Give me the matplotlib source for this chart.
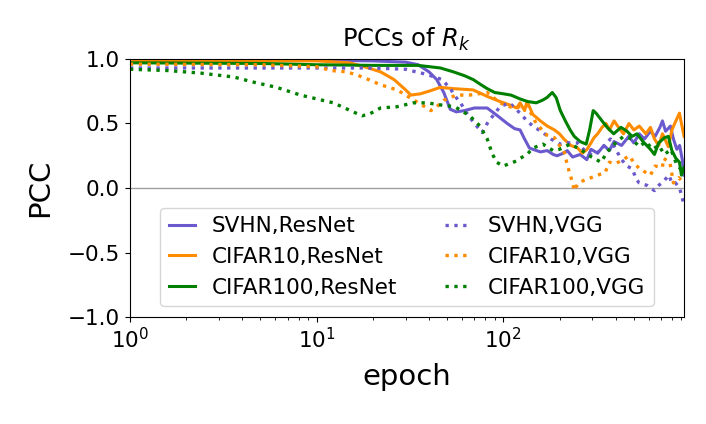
import matplotlib
matplotlib.use('Agg')
import matplotlib.pyplot as plt

# values: epoch -> PCC
svhn_resnet_epoch = [1, 3, 10, 20, 30, 35, 40, 44, 48, 52,
                     56, 62, 70, 82, 93, 105, 115, 123, 130, 138,
                     144, 158, 172, 185, 194, 210, 220, 235, 258, 280,
                     295, 320, 346, 370, 392, 430, 470, 500, 535, 570,
                     614, 650, 690, 712, 740, 786, 815, 850, 880, 909,
                     930]
svhn_resnet_pcc = [0.99, 0.99, 0.99, 0.985, 0.975, 0.955, 0.9, 0.84, 0.74, 0.61,
                   0.59, 0.6, 0.62, 0.62, 0.56, 0.5, 0.46, 0.45, 0.38, 0.31,
                   0.3, 0.28, 0.29, 0.26, 0.25, 0.27, 0.29, 0.24, 0.26, 0.22,
                   0.3, 0.27, 0.33, 0.29, 0.36, 0.33, 0.4, 0.35, 0.42, 0.38,
                   0.44, 0.4, 0.47, 0.52, 0.44, 0.48, 0.38, 0.3, 0.33, 0.22,
                   0.1]

cifar10_resnet_epoch = [1, 5, 10, 15, 18, 22, 26, 30, 32, 36,
                        40, 46, 54, 69, 82, 96, 110, 118, 123, 130,
                        134, 144, 158, 172, 188, 200, 211, 230, 250, 265,
                        281, 295, 306, 320, 338, 355, 370, 392, 410, 440,
                        471, 500, 535, 580, 614, 645, 680, 712, 766, 800,
                        840, 878, 900, 930]
cifar10_resnet_pcc = [0.98, 0.985, 0.985, 0.97, 0.94, 0.9, 0.84, 0.76, 0.72, 0.73,
                      0.75, 0.78, 0.77, 0.76, 0.71, 0.67, 0.64, 0.62, 0.66, 0.6,
                      0.67, 0.57, 0.52, 0.48, 0.45, 0.42, 0.38, 0.33, 0.31, 0.27,
                      0.3, 0.35, 0.39, 0.42, 0.47, 0.5, 0.45, 0.52, 0.48, 0.42,
                      0.5, 0.45, 0.48, 0.42, 0.47, 0.38, 0.33, 0.42, 0.32, 0.45,
                      0.52, 0.58, 0.5, 0.4]

cifar100_resnet_epoch = [1, 5, 10, 20, 35, 46, 54, 62, 69, 76,
                         82, 90, 100, 110, 123, 135, 150, 162, 171, 183,
                         192, 202, 215, 228, 240, 258, 278, 290, 303, 314,
                         338, 360, 390, 427, 460, 489, 520, 560, 614, 645,
                         680, 730, 766, 800, 840, 878, 900, 930]
cifar100_resnet_pcc = [0.97, 0.965, 0.955, 0.95, 0.95, 0.93, 0.9, 0.87, 0.84, 0.8,
                       0.77, 0.74, 0.73, 0.72, 0.69, 0.67, 0.66, 0.68, 0.7, 0.74,
                       0.7, 0.6, 0.52, 0.45, 0.4, 0.36, 0.34, 0.45, 0.6, 0.58,
                       0.52, 0.47, 0.42, 0.47, 0.44, 0.4, 0.42, 0.36, 0.3, 0.26,
                       0.35, 0.39, 0.4, 0.29, 0.23, 0.2, 0.1, 0.16]

svhn_vgg_epoch = [1, 5, 10, 20, 30, 34, 39, 47, 52, 56,
                  59, 65, 72, 77, 82, 87, 96, 108, 115, 123,
                  134, 144, 163, 180, 202, 220, 250, 281, 306, 334,
                  375, 400, 430, 460, 489, 520, 535, 590, 645, 680,
                  730, 770, 800, 836, 880, 910, 930]
svhn_vgg_pcc = [0.93, 0.93, 0.93, 0.93, 0.92, 0.9, 0.88, 0.84, 0.77, 0.7,
                0.66, 0.56, 0.48, 0.43, 0.5, 0.55, 0.63, 0.66, 0.62, 0.58,
                0.52, 0.48, 0.43, 0.38, 0.34, 0.35, 0.35, 0.27, 0.25, 0.3,
                0.38, 0.3, 0.22, 0.17, 0.15, 0.06, 0.04, 0.02, -0.02, 0.02,
                0.06, 0.1, 0.04, 0.04, 0.0, -0.08, -0.14]

cifar10_vgg_epoch = [1, 5, 10, 12, 14.5, 16.5, 19, 22, 27, 31.6,
                     37, 41, 44, 48, 56, 66, 82, 96, 113, 134,
                     150, 171, 188, 200, 211, 222, 234, 240, 250, 261,
                     281, 295, 320, 351, 370, 400, 440, 471, 500, 535,
                     565, 614, 650, 712, 720, 780, 815, 870, 930]
cifar10_vgg_pcc = [0.96, 0.955, 0.94, 0.91, 0.9, 0.875, 0.84, 0.8, 0.76, 0.7,
                   0.64, 0.6, 0.63, 0.68, 0.72, 0.72, 0.74, 0.66, 0.62, 0.64,
                   0.5, 0.41, 0.39, 0.33, 0.29, 0.16, 0.05, -0.02, 0.03, 0.05,
                   0.07, 0.08, 0.1, 0.12, 0.2, 0.19, 0.22, 0.25, 0.2, 0.15,
                   0.13, 0.1, 0.17, 0.16, 0.23, 0.2, 0.04, 0.08, 0.04]

cifar100_vgg_epoch = [1, 1.6, 2.4, 3.6, 4.6, 6.1, 8.2, 12.3, 15.7, 17.5,
                      19, 22, 27, 33, 39, 48, 55, 66, 75, 82,
                      87, 92, 100, 108, 118, 123, 134, 144, 163, 185,
                      200, 228, 260, 281, 334, 360, 400, 440, 489, 535,
                      580, 630, 680, 730, 790, 850, 930]
cifar100_vgg_pcc = [0.92, 0.91, 0.89, 0.86, 0.82, 0.78, 0.72, 0.66, 0.59, 0.56,
                    0.57, 0.62, 0.63, 0.66, 0.66, 0.64, 0.63, 0.56, 0.48, 0.38,
                    0.27, 0.2, 0.17, 0.19, 0.21, 0.23, 0.26, 0.31, 0.34, 0.29,
                    0.3, 0.34, 0.3, 0.26, 0.2, 0.28, 0.35, 0.4, 0.38, 0.32,
                    0.36, 0.3, 0.33, 0.26, 0.3, 0.18, 0.12]

fig = plt.figure(figsize=(7.06, 4.24), dpi=100)
ax = fig.add_axes([0.184, 0.252, 0.785, 0.609])

ax.axhline(0, color='#a0a0a0', lw=1)

ax.plot(svhn_resnet_epoch, svhn_resnet_pcc, color='slateblue', lw=2.2, label='SVHN,ResNet')
ax.plot(cifar10_resnet_epoch, cifar10_resnet_pcc, color='darkorange', lw=2.2, label='CIFAR10,ResNet')
ax.plot(cifar100_resnet_epoch, cifar100_resnet_pcc, color='green', lw=2.2, label='CIFAR100,ResNet')
ax.plot(svhn_vgg_epoch, svhn_vgg_pcc, color='slateblue', lw=2.4, ls=':', label='SVHN,VGG')
ax.plot(cifar10_vgg_epoch, cifar10_vgg_pcc, color='darkorange', lw=2.4, ls=':', label='CIFAR10,VGG')
ax.plot(cifar100_vgg_epoch, cifar100_vgg_pcc, color='green', lw=2.4, ls=':', label='CIFAR100,VGG')

ax.set_xscale('log')
ax.set_xlim(1, 930)
ax.set_ylim(-1, 1)
ax.set_yticks([-1.0, -0.5, 0.0, 0.5, 1.0])
ax.tick_params(labelsize=15.5)

ax.set_title('PCCs of $R_k$', fontsize=17.5, pad=9)
ax.set_xlabel('epoch', fontsize=21, labelpad=8)
ax.set_ylabel('PCC', fontsize=21, labelpad=10)

ax.legend(ncol=2, loc='lower center', fontsize=15.5, handlelength=1.2,
          columnspacing=2.2)

fig.savefig('out.png', dpi=100)
